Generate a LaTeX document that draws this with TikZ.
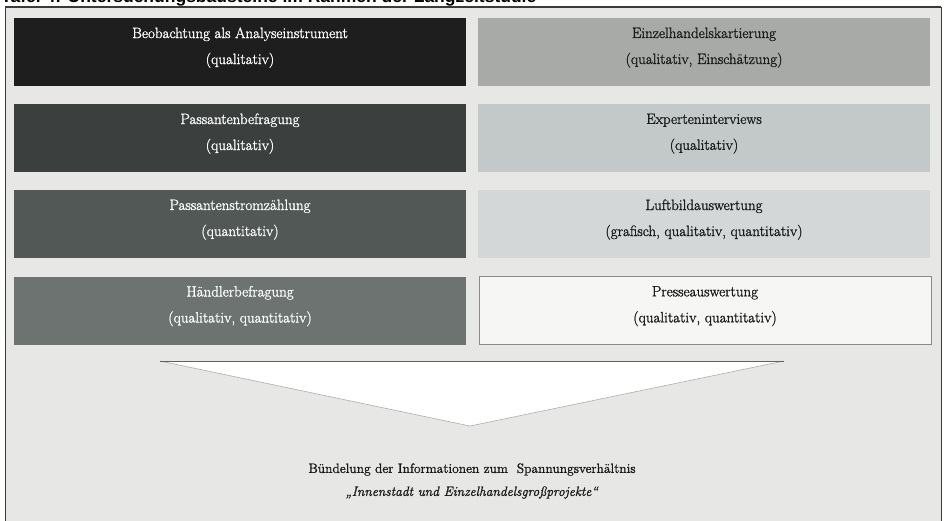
\documentclass[tikz,border=0pt]{standalone}
\usepackage{fontspec}
\newfontfamily\titlefont{Liberation Sans}
\newfontfamily\boxfont{Latin Modern Roman}[FakeBold=1.3]
\definecolor{pagebg}{HTML}{E7E7E5}
\definecolor{framecol}{HTML}{3A3A3A}
\definecolor{lA}{HTML}{1D1E1D}
\definecolor{lB}{HTML}{3B3F3D}
\definecolor{lC}{HTML}{525856}
\definecolor{lD}{HTML}{6C7370}
\definecolor{rA}{HTML}{A8AAA7}
\definecolor{rB}{HTML}{C3C8C9}
\definecolor{rC}{HTML}{D3D7D7}
\definecolor{rD}{HTML}{F6F6F5}
\definecolor{darktext}{HTML}{1A1A1A}
\definecolor{wedgeline}{HTML}{8A8A8A}
\tikzset{
  methodbox/.style={minimum width=452pt, minimum height=68pt, inner sep=0pt,
    align=center, font=\boxfont\fontsize{15}{26}\selectfont,
    execute at end node={\rule[-12.5pt]{0pt}{1pt}}},
  darkbox/.style={methodbox, text=white},
  lightbox/.style={methodbox, text=darktext},
}
\begin{document}
\begin{tikzpicture}[x=1pt, y=-1pt]
  \useasboundingbox (0,0) rectangle (944,520);
  \clip (0,0) rectangle (944,520);
  % caption line, cut at the upper edge
  \node[anchor=base west, inner sep=0pt, text=black,
        font=\titlefont\bfseries\fontsize{17.5}{19}\selectfont] (caption) at (1,2.5)
    {Tafel 4: Untersuchungsbausteine im Rahmen der Langzeitstudie};
  % frame and background
  \fill[pagebg] (5,7) rectangle (941,540);
  \draw[framecol, line width=0.8pt] (5,7) rectangle (941,540);
  \draw[framecol, line width=1.6pt] (5,7) -- (941,7);
  % left column
  \node[darkbox, fill=lA] (beob) at (240,52)
    {Beobachtung als Analyseinstrument\\(qualitativ)};
  \node[darkbox, fill=lB] (pbef) at (240,138)
    {Passantenbefragung\\(qualitativ)};
  \node[darkbox, fill=lC] (pstr) at (240,224)
    {Passantenstromzählung\\(quantitativ)};
  \node[darkbox, fill=lD] (hbef) at (240,310.5)
    {Händlerbefragung\\(qualitativ, quantitativ)};
  % right column
  \node[lightbox, fill=rA] (kart) at (704,52)
    {Einzelhandelskartierung\\(qualitativ, Einschätzung)};
  \node[lightbox, fill=rB] (expi) at (704,138)
    {Experteninterviews\\(qualitativ)};
  \node[lightbox, fill=rC] (luft) at (704,224)
    {Luftbildauswertung\\(grafisch, qualitativ, quantitativ)};
  \node[lightbox, fill=rD, draw=wedgeline, line width=0.6pt] (pres) at (705,310.5)
    {Presseauswertung\\(qualitativ, quantitativ)};
  % funnel wedge
  \coordinate (wl) at (160,361);
  \coordinate (wr) at (784,361);
  \coordinate (wt) at (470,426);
  \fill[white] (wl) -- (wr) -- (wt) -- cycle;
  \draw[wedgeline!70, line width=0.6pt] (wr) -- (wt) -- (wl);
  \draw[framecol!80, line width=0.8pt] (wl) -- (wr);
  % result
  \node[align=center, text=darktext, font=\boxfont\fontsize{13.5}{23}\selectfont] (result) at (472,481)
    {Bündelung der Informationen zum\ \ Spannungsverhältnis\\
     \textit{„Innenstadt und Einzelhandelsgroßprojekte“}};
\end{tikzpicture}
\end{document}
